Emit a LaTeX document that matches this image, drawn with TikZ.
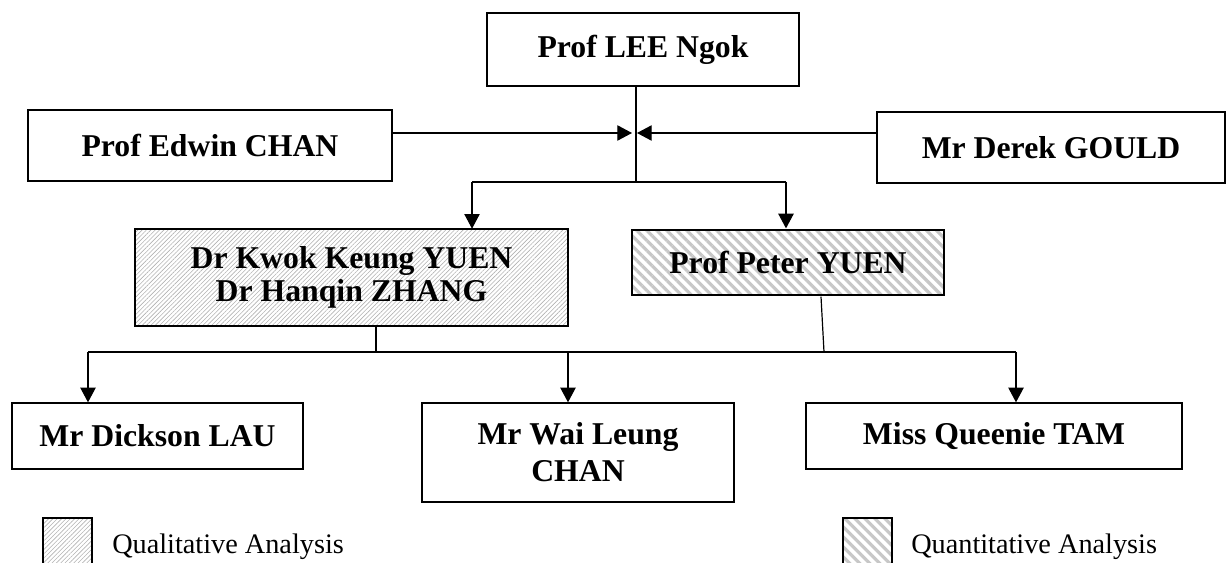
\documentclass[tikz,border=0pt]{standalone}
\usepackage{fontspec}
\setmainfont{Liberation Serif}
\usetikzlibrary{arrows.meta,patterns.meta,calc}
\begin{document}
\begin{tikzpicture}[x=0.75pt,y=-0.75pt,
  box/.style={draw, line width=1pt, inner sep=0pt, align=center,
    font=\fontsize{23.8}{27.6}\selectfont\bfseries},
  conn/.style={line width=0.9pt},
  arr/.style={conn, -{Triangle[length=11pt,width=11.5pt]}},
  qual/.style={pattern={Lines[angle=45,distance=2.3pt,line width=0.45pt]}, pattern color=black!30},
  quant/.style={pattern={Lines[angle=-45,distance=5.3pt,line width=2.4pt]}, pattern color=black!22},
  legend/.style={font=\fontsize{21.2}{24}\selectfont, anchor=base west, inner sep=0pt}
]
\useasboundingbox (0,0) rectangle (1228,563);

% boxes
\node[box, minimum width=234pt, minimum height=54.75pt] (lee) at (643,49.5) {\raisebox{2pt}{Prof LEE Ngok}};
\node[box, minimum width=273pt, minimum height=53.25pt] (edwin) at (210,145.5) {Prof Edwin CHAN};
\node[box, minimum width=261pt, minimum height=53.25pt] (derek) at (1051,147.5) {Mr Derek GOULD};
\node[box, qual, minimum width=324.75pt, minimum height=72.75pt,
  font=\fontsize{23.8}{24.75}\selectfont\bfseries] (kwok) at (351.5,277.5) {Dr Kwok Keung YUEN\\Dr Hanqin ZHANG};
\node[box, quant, minimum width=234pt, minimum height=48.75pt] (peter) at (788,262.5) {Prof Peter YUEN};
\node[box, minimum width=218.25pt, minimum height=49.5pt] (dickson) at (157.5,436) {Mr Dickson LAU};
\node[box, minimum width=234pt, minimum height=74.25pt,
  font=\fontsize{23.8}{27.75}\selectfont\bfseries] (wai) at (578,452.5) {Mr Wai Leung\\CHAN};
\node[box, minimum width=282pt, minimum height=49.5pt] (queenie) at (994,436) {Miss Queenie TAM};

% connectors, top level
\coordinate (jt) at (636,133);
\coordinate (jb) at (636,182);
\coordinate (bl) at (472,182);
\coordinate (br) at (786,182);
\draw[conn] (lee.south -| jb) -- (jb);
\draw[arr] (edwin.east |- jt) -- ($(jt)+(-4,0)$);
\draw[arr] (derek.west |- jt) -- ($(jt)+(1,0)$);
\draw[conn] (bl) -- (br);
\draw[arr] (bl) -- (bl |- kwok.north);
\draw[arr] (br) -- (br |- peter.north);

% connectors, second level
\coordinate (kb) at (376,352);
\coordinate (pb) at (824,352);
\coordinate (ll) at (88,352);
\coordinate (mm) at (568,352);
\coordinate (rr) at (1016,352);
\draw[conn] (kb |- kwok.south) -- (kb);
\draw[conn] ($(peter.south)+(33,0)$) -- (pb);
\draw[conn] (ll) -- (rr);
\draw[arr] (ll) -- (ll |- dickson.north);
\draw[arr] (mm) -- (mm |- wai.north);
\draw[arr] (rr) -- (rr |- queenie.north);

% legend
\node[draw, line width=1pt, qual, inner sep=0pt, minimum width=36.75pt, minimum height=36pt] (qlbox) at (67.5,542) {};
\node[legend] (qltext) at (112,553) {Qualitative Analysis};
\node[draw, line width=1pt, quant, inner sep=0pt, minimum width=36.75pt, minimum height=36pt] (qnbox) at (867.5,542) {};
\node[legend] (qntext) at (911,553) {Quantitative Analysis};
\end{tikzpicture}
\end{document}
